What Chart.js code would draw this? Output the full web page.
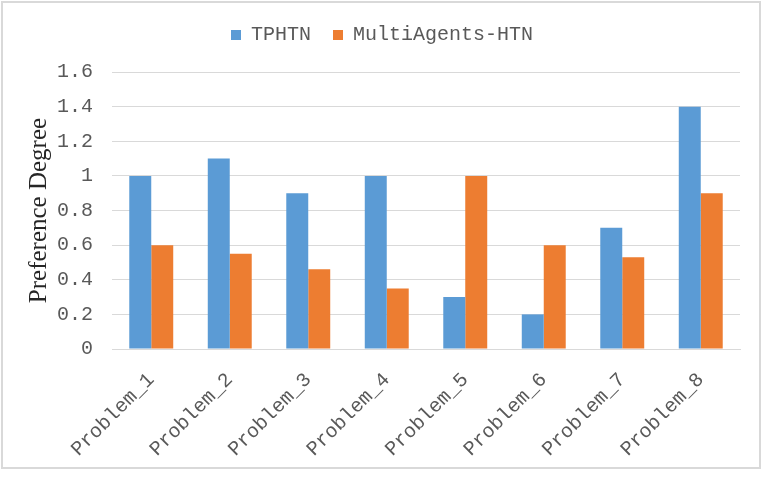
<!DOCTYPE html>
<html>
<head>
<meta charset="utf-8">
<script src="https://cdn.jsdelivr.net/npm/chart.js@4.4.1/dist/chart.umd.min.js"></script>
<style>
  html, body { margin: 0; padding: 0; background: #fff; }
  #wrap { position: absolute; left: 0; top: 0; width: 766px; height: 488px; }
</style>
</head>
<body>
<div id="wrap"><canvas id="barChart"></canvas></div>
<script>
/************************ DATA ************************** */
const problems = ["Problem_1", "Problem_2", "Problem_3", "Problem_4", "Problem_5", "Problem_6", "Problem_7", "Problem_8"];
const tphtn = [1, 1.1, 0.9, 1, 0.3, 0.2, 0.7, 1.4];
const multiAgents = [0.6, 0.55, 0.46, 0.35, 1, 0.6, 0.53, 0.9];
const seriesNames = ["TPHTN", "MultiAgents-HTN"];
const yTitle = "Preference Degree";

/************************ STYLE ************************** */
const monoFont = "'Liberation Mono', 'DejaVu Sans Mono', monospace";
const textGray = "#595959";
const gridGray = "#d9d9d9";

// outer frame like the excel chart border
const frame = {
  id: "frame",
  beforeDraw(chart) {
    const c = chart.ctx;
    c.save();
    c.fillStyle = "#fff";
    c.fillRect(0, 0, chart.width, chart.height);
    c.strokeStyle = "#d9d9d9";
    c.lineWidth = 2;
    c.strokeRect(2, 2, 758, 466);
    c.restore();
  },
};

// leave more room under the legend (excel puts a gap there)
const legendGap = {
  id: "legendGap",
  beforeInit(chart) {
    const origFit = chart.legend.fit;
    chart.legend.fit = function () {
      origFit.call(this);
      this.height += 17;
    };
  },
};

const ctx = document.getElementById("barChart");
const config = {
  type: "bar",
  data: {
    labels: problems,
    datasets: [
      {
        label: seriesNames[0],
        data: tphtn,
        backgroundColor: "#5b9bd5",
      },
      {
        label: seriesNames[1],
        data: multiAgents,
        backgroundColor: "#ed7d31",
      },
    ],
  },
  options: {
    responsive: true,
    maintainAspectRatio: false,
    animation: false,
    categoryPercentage: 0.56,
    barPercentage: 1,
    layout: {
      padding: { top: 3, right: 26, left: 24, bottom: 0 },
    },
    scales: {
      x: {
        grid: { display: false },
        border: { display: true, color: gridGray },
        ticks: {
          color: textGray,
          font: { family: monoFont, size: 20 },
          minRotation: 45,
          maxRotation: 45,
          padding: 11,
        },
        afterFit(scale) {
          scale.height = 488 - 349;
        },
      },
      y: {
        min: 0,
        max: 1.6,
        grid: { color: gridGray, drawTicks: false },
        border: { display: false },
        ticks: {
          stepSize: 0.2,
          color: textGray,
          padding: 19,
          font: { family: monoFont, size: 20 },
          callback: (v) => Number(v.toFixed(1)).toString(),
        },
        title: {
          display: true,
          text: yTitle,
          color: "#262626",
          font: { family: "'Liberation Serif', serif", size: 25 },
          padding: 0,
        },
        afterFit(scale) {
          scale.width = 88;
        },
      },
    },
    plugins: {
      legend: {
        position: "top",
        labels: {
          color: textGray,
          font: { family: monoFont, size: 20 },
          boxWidth: 10,
          boxHeight: 10,
          padding: 22,
        },
      },
      tooltip: { enabled: false },
    },
  },
  plugins: [frame, legendGap],
};

let myBarChart = new Chart(ctx, config);
</script>
</body>
</html>
